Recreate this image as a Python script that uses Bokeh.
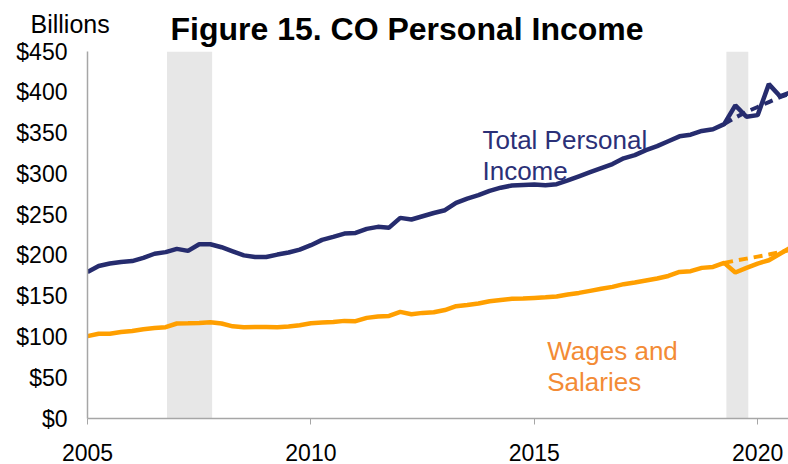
from bokeh.plotting import figure
from bokeh.models import Range1d, FixedTicker, NumeralTickFormatter, Label, Title
from bokeh.embed import file_html
from bokeh.resources import INLINE

# ---- data (quarterly, starting 2005 Q1) ----
start_year = 2005
total_income = [179.6, 187, 190, 192, 193, 197, 202, 204, 208, 205.5, 213.7, 213.7, 210, 205, 200, 198,
                198, 201, 203.5, 207, 212.5, 219, 222.7, 226.8, 227.6, 232.5, 235, 234, 246, 244, 248, 252,
                255.4, 264.4, 269.7, 273.8, 279, 283, 285.7, 286.4, 287, 286, 287.3, 292, 297, 302, 307, 312,
                319, 323, 329, 334, 340, 346, 348, 352.6, 354.7, 361, 384, 370, 372, 410, 395, 400]
wages = [101, 104, 104, 106, 107.4, 109.5, 111, 112, 116.5, 116.8, 117.2, 118, 116.5, 113, 112, 112.3,
         112.3, 112, 112.8, 114.4, 116.8, 117.6, 118.4, 119.7, 119.3, 123.4, 125, 125.8, 130.7, 127.9, 129.5, 130.3,
         133, 137.7, 139.3, 141, 143.8, 145.4, 146.7, 147.1, 147.9, 148.7, 149.6, 152, 154, 156.5, 159, 161.4,
         164.7, 166.8, 169.2, 171.6, 174.8, 179.7, 180.6, 184.7, 185.9, 190.8, 179, 184.7, 190, 194, 202, 210]
trend_start_index = 57
total_trend = [361, 369, 376, 382, 388, 394, 399]
wages_trend = [190.8, 193.5, 196, 198.5, 201, 204, 207]
recession_start = [2006.78, 2019.30]
recession_end = [2007.79, 2019.79]
x_ticks = [2005, 2010, 2015, 2020]
y_ticks = [0, 50, 100, 150, 200, 250, 300, 350, 400, 450]

quarters = [start_year + i / 4 for i in range(len(total_income))]
trend_quarters = quarters[trend_start_index:trend_start_index + len(total_trend)]

NAVY = "#262C6E"
ORANGE = "#FF9F00"
FONT = "Liberation Sans"

p = figure(width=788, height=464, output_backend="svg", toolbar_location=None,
           x_range=Range1d(2005, 2020.69), y_range=Range1d(0, 450),
           min_border_left=87, min_border_right=0, min_border_top=51, min_border_bottom=46)
p.outline_line_color = None
p.grid.visible = False
p.background_fill_color = "white"

# units note (outer title row, pulled down onto the title line)
p.title.text = "Billions"
p.title.align = "left"
p.title.offset = -57
p.title.standoff = -67
p.title.text_font = FONT
p.title.text_font_size = "25px"
p.title.text_font_style = "normal"
p.title.text_color = "black"

# main chart title (row nearest the plot)
p.add_layout(Title(text="Figure 15. CO Personal Income", align="left", offset=83, standoff=9,
                   text_font=FONT, text_font_size="32px", text_font_style="bold",
                   text_color="black"), "above")

# recession shading
p.quad(left=recession_start, right=recession_end, bottom=0, top=450,
       fill_color="#E7E7E7", line_color=None)

p.line(quarters, total_income, line_color=NAVY, line_width=4.5)
p.line(quarters, wages, line_color=ORANGE, line_width=4.5)
p.line(trend_quarters, total_trend, line_color=NAVY, line_width=4, line_dash="9 6")
p.line(trend_quarters, wages_trend, line_color=ORANGE, line_width=4, line_dash="9 6")

# axes
for ax in (p.xaxis[0], p.yaxis[0]):
    ax.axis_line_color = "#A6A6A6"
    ax.axis_line_width = 1.5
    ax.major_label_text_font = FONT
    ax.major_label_text_font_size = "23px"
    ax.major_label_text_color = "black"
    ax.minor_tick_line_color = None
    ax.major_tick_line_color = "#A6A6A6"

p.yaxis.ticker = FixedTicker(ticks=y_ticks)
p.yaxis.formatter = NumeralTickFormatter(format="$0")
p.yaxis.major_tick_out = 0
p.yaxis.major_tick_in = 0
p.yaxis.major_label_standoff = 20

p.xaxis.ticker = FixedTicker(ticks=x_ticks)
p.xaxis.major_tick_out = 6
p.xaxis.major_tick_in = 0
p.xaxis.major_label_standoff = 19

def add_label(x, y, text, color, size):
    p.add_layout(Label(x=x, y=y, text=text, text_color=color, text_font=FONT,
                       text_font_size=size, text_baseline="alphabetic"))

add_label(2013.84, 342, "Total Personal", "#2B3077", "26px")
add_label(2013.84, 303.2, "Income", "#2B3077", "26px")
add_label(2015.29, 82.5, "Wages and", "#F38B35", "26px")
add_label(2015.29, 44.8, "Salaries", "#F38B35", "26px")

open("out.html", "w").write(file_html(p, INLINE))
